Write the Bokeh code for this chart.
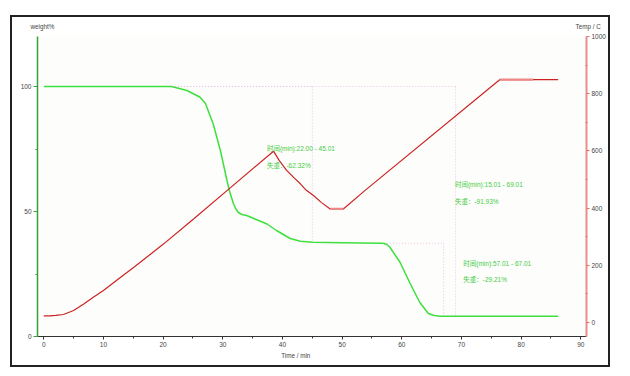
from bokeh.plotting import figure
from bokeh.layouts import column
from bokeh.models import Range1d, LinearAxis, FixedTicker, Label, Title
from bokeh.embed import file_html
from bokeh.resources import INLINE

# ---- data ----
time_w = [0, 21.4, 24, 26.2, 27.1, 28.4, 29.6, 30.7, 31.1, 31.8, 32.2, 32.6, 33.2, 34, 36, 37.4,
          39, 41.3, 43, 45, 50, 56.6, 57.0, 57.5, 58, 59.7, 61.4, 63, 64.4, 65.0, 65.5, 66.4, 86.2]
weight = [100, 100, 98.4, 95.7, 93.2, 85, 74.4, 62.4, 58.4, 53, 51, 49.6, 48.8, 48.4, 46.4, 45,
          42.4, 39.2, 38.1, 37.7, 37.5, 37.3, 37.2, 36.8, 35.7, 29.7, 21.2, 13.7, 9.3, 8.7, 8.4, 8.1, 8.07]

time_t = [0, 1, 2, 3.3, 5, 6.7, 8.3, 10, 12.5, 15.1, 20.1, 25.1, 30.7, 38.5, 39.5, 40.7, 42, 43,
          44, 45.2, 46.5, 48, 50.2, 53.8, 76.4, 86.2]
temp = [23, 23, 25, 28, 42, 65, 88, 112, 152, 193, 275, 362, 461, 599, 565, 532, 505, 485,
        462, 444, 420, 397, 397, 461, 849, 849]

hl_t0 = [48.0, 76.4]
hl_t1 = [50.2, 82.0]
hl_T = [397, 849]

steps_start = [22.00, 15.01, 57.01]
steps_end = [45.01, 69.01, 67.01]
steps_loss = [-62.32, -91.93, -29.21]
steps_top = [100.0, 100.0, 37.30]
label_x = [37.4, 68.9, 70.3]
label_y = [75.1, 60.7, 29.3]
label_dy = 6.6

x_ticks = list(range(0, 91, 10))
x_minor = list(range(5, 90, 10))
w_ticks = [0, 50, 100]
w_minor = [25, 75]
t_ticks = list(range(0, 1001, 200))
t_minor = list(range(100, 1000, 200))

TICK_FONT = "Liberation Sans"
TXT_FONT = "'Liberation Sans', 'Noto Sans CJK SC'"
W = 596

# ---- top strip with the two axis titles ----
top = figure(width=W, height=14, output_backend="svg", toolbar_location=None,
             x_range=Range1d(0, W), y_range=Range1d(0, 14),
             x_axis_type=None, y_axis_type=None,
             min_border_left=0, min_border_right=0, min_border_top=0, min_border_bottom=0)
top.grid.visible = False
top.outline_line_color = None
top.background_fill_color = "white"
top.border_fill_color = "white"
for tx, sx in [("weight%", 18), ("Temp / C", 563)]:
    top.add_layout(Label(x=sx, y=5, text=tx, text_font=TICK_FONT, text_font_size="6.3px",
                         text_color="#444444", text_baseline="middle"))

# ---- main plot ----
p = figure(width=W, height=334, output_backend="svg", toolbar_location=None,
           x_range=Range1d(-1.05, 90.95), y_range=Range1d(0, 120),
           min_border_left=25, min_border_right=21, min_border_top=5, min_border_bottom=29)
p.extra_y_ranges = {"temp": Range1d(-49, 1000)}
p.grid.visible = False
p.outline_line_color = None
p.background_fill_color = "#fdfdfb"
p.border_fill_color = "white"

for fig in (top, p):
    try:
        fig.frame_align = False
    except AttributeError:
        pass

xa = p.xaxis[0]
xa.ticker = FixedTicker(ticks=x_ticks, minor_ticks=x_minor)
xa.axis_line_color = "#333333"
xa.major_tick_line_color = "#333333"
xa.minor_tick_line_color = "#333333"
xa.major_tick_out = 3
xa.major_tick_in = 0
xa.minor_tick_out = 2
xa.minor_tick_in = 0
xa.major_label_standoff = 2
xa.major_label_text_font = TICK_FONT
xa.major_label_text_font_size = "6.5px"
xa.major_label_text_color = "#444444"

ya = p.yaxis[0]
ya.ticker = FixedTicker(ticks=w_ticks, minor_ticks=w_minor)
ya.axis_line_color = "#3a9e3a"
ya.axis_line_width = 1.5
ya.major_tick_line_color = "#3a9e3a"
ya.minor_tick_line_color = "#3a9e3a"
ya.major_tick_out = 4
ya.major_tick_in = 0
ya.minor_tick_out = 2
ya.minor_tick_in = 0
ya.major_label_standoff = 2
ya.major_label_text_font = TICK_FONT
ya.major_label_text_font_size = "6.5px"
ya.major_label_text_color = "#444444"

ra = LinearAxis(y_range_name="temp", ticker=FixedTicker(ticks=t_ticks, minor_ticks=t_minor))
ra.axis_line_color = "#e89090"
ra.axis_line_width = 2
ra.major_tick_line_color = "#e07070"
ra.minor_tick_line_color = "#e07070"
ra.major_tick_out = 3
ra.major_tick_in = 0
ra.minor_tick_out = 1
ra.minor_tick_in = 1
ra.major_label_standoff = 2
ra.major_label_text_font = TICK_FONT
ra.major_label_text_font_size = "6.5px"
ra.major_label_text_color = "#444444"
p.add_layout(ra, "right")

DOT = "#e8c4e8"
for s, e, loss, lvl in zip(steps_start, steps_end, steps_loss, steps_top):
    p.line([s, e], [lvl, lvl], line_color=DOT, line_dash="1 2", line_width=1)
    p.line([e, e], [lvl, lvl + loss], line_color=DOT, line_dash="1 2", line_width=1)

p.line(time_w, weight, line_color="#3ee03e", line_width=1.5)
p.line(time_t, temp, y_range_name="temp", line_color="#cc2222", line_width=1.2)
for a, b, tv in zip(hl_t0, hl_t1, hl_T):
    p.line([a, b], [tv, tv], y_range_name="temp", line_color="#ee8888", line_width=2.2)

for s, e, loss, lx, ly in zip(steps_start, steps_end, steps_loss, label_x, label_y):
    p.add_layout(Label(x=lx, y=ly, text=f"时间(min):{s:.2f} - {e:.2f}", text_font=TXT_FONT,
                       text_font_size="6.5px", text_color="#44cc44", text_baseline="middle"))
    p.add_layout(Label(x=lx, y=ly - label_dy, text=f"失重：{loss:.2f}%", text_font=TXT_FONT,
                       text_font_size="6.5px", text_color="#44cc44", text_baseline="middle"))

p.add_layout(Title(text="Time / min", align="left", offset=243.7, text_font=TICK_FONT,
                   text_font_size="6.3px", text_font_style="normal", text_color="#444444",
                   standoff=0), "below")

layout = column(top, p, margin=(17, 0, 0, 12), spacing=0,
                styles={"outline": "2px solid #222222"})

open("out.html", "w").write(file_html(layout, INLINE))
